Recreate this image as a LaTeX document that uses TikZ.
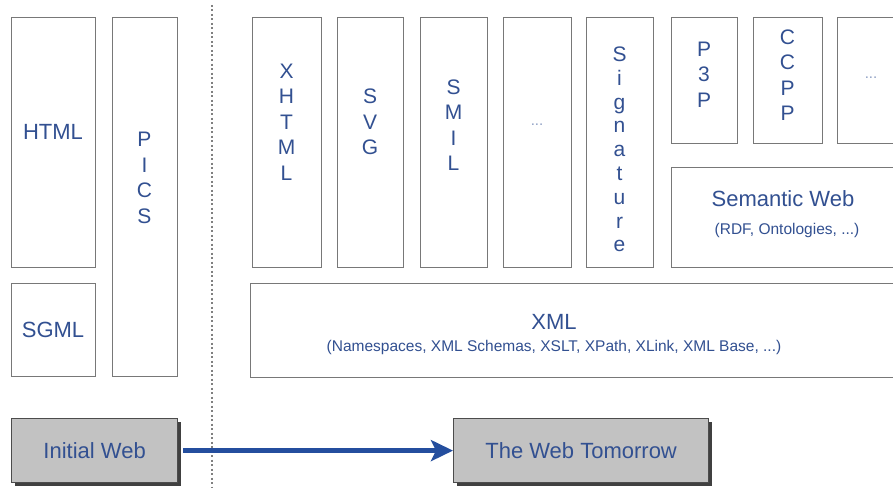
\documentclass[tikz,border=0pt]{standalone}
\usepackage{fontspec}
\setmainfont{Liberation Sans}
\usetikzlibrary{arrows.meta,shadows}

\definecolor{laytext}{RGB}{50,80,145}
\definecolor{layline}{RGB}{120,120,120}
\definecolor{eragray}{RGB}{194,194,194}
\definecolor{arrowblue}{RGB}{36,78,158}

\begin{document}
\begin{tikzpicture}[x=1pt, y=-1pt,
  box/.style={draw=layline, line width=1.3pt, fill=white, anchor=north west, inner sep=0pt},
  era/.style={draw=black!70, line width=1.2pt, fill=eragray, anchor=north west, inner sep=0pt,
              drop shadow={shadow xshift=3pt, shadow yshift=-3pt, fill=black!75, opacity=1},
              text=laytext, font=\fontsize{22}{26}\selectfont},
  lbl/.style={text=laytext, inner sep=0pt, align=center, font=\fontsize{#1}{26}\selectfont},
  lbl/.default=22,
  letters/.style={text=laytext, inner sep=0pt, align=center, font=\fontsize{21}{#1}\selectfont},
  letters/.default=25.5,
  more/.style={text=laytext!55, inner sep=0pt, font=\fontsize{15}{18}\selectfont},
  divider/.style={draw=gray, line width=1.3pt, dash pattern=on 2pt off 2.5pt},
  arr/.style={-{Stealth[length=22pt, width=21pt, inset=5pt]}, line width=4.5pt, draw=arrowblue}]
\useasboundingbox (0,0) rectangle (893,487);
\clip (0,0) rectangle (893,487);

% yesterday
\node[box, minimum width=84pt, minimum height=250pt] (html) at (11,17) {};
\node[box, minimum width=84pt, minimum height=93pt] (sgml) at (11,283) {};
\node[box, minimum width=65pt, minimum height=359pt] (pics) at (112,17) {};
\node[lbl] (html-t) at (53,132) {HTML};
\node[lbl] (sgml-t) at (53,330) {SGML};
\node[letters] (pics-t) at (144.5,178) {P\\I\\C\\S};

\coordinate (divtop) at (212,5);
\coordinate (divbot) at (212,490);
\draw[divider] (divtop) -- (divbot);

% tomorrow
\node[box, minimum width=69pt, minimum height=250pt] (xhtml) at (252,17) {};
\node[box, minimum width=66pt, minimum height=250pt] (svg) at (337,17) {};
\node[box, minimum width=67pt, minimum height=250pt] (smil) at (420,17) {};
\node[box, minimum width=68pt, minimum height=250pt] (etc-a) at (503,17) {};
\node[box, minimum width=67pt, minimum height=250pt] (sig) at (586,17) {};
\node[box, minimum width=66pt, minimum height=126pt] (p3p) at (671,17) {};
\node[box, minimum width=69pt, minimum height=126pt] (ccpp) at (753,17) {};
\node[box, minimum width=68pt, minimum height=126pt] (etc-b) at (837,17) {};
\node[box, minimum width=234pt, minimum height=100pt] (sw) at (671,167) {};
\node[box, minimum width=655pt, minimum height=94pt] (xml) at (250,283) {};

\node[letters] (xhtml-t) at (286.5,122) {X\\H\\T\\M\\L};
\node[letters] (svg-t) at (370,122) {S\\V\\G};
\node[letters] (smil-t) at (453.5,125) {S\\M\\I\\L};
\node[more] (etc-a-t) at (537,125) {...};
\node[letters=23.8] (sig-t) at (619.5,149.5) {S\\i\\g\\n\\a\\t\\u\\r\\e};
\node[letters] (p3p-t) at (704,74.5) {P\\3\\P};
\node[letters] (ccpp-t) at (787.5,75) {C\\C\\P\\P};
\node[more] (etc-b-t) at (871,78) {...};
\node[lbl] (sw-t) at (783,198.5) {Semantic Web};
\node[lbl=15.5] (sw-s) at (787,230) {(RDF, Ontologies, ...)};
\node[lbl] (xml-t) at (554,322) {XML};
\node[lbl=15.5] (xml-s) at (554,347) {(Namespaces, XML Schemas, XSLT, XPath, XLink, XML Base, ...)};

\node[era, minimum width=166pt, minimum height=64pt] (initial) at (11,418) {Initial Web};
\node[era, minimum width=255pt, minimum height=64pt] (tomorrow) at (453,418) {The Web Tomorrow};
\draw[arr, shorten <=5pt] (initial.east) -- (tomorrow.west);
\end{tikzpicture}
\end{document}
